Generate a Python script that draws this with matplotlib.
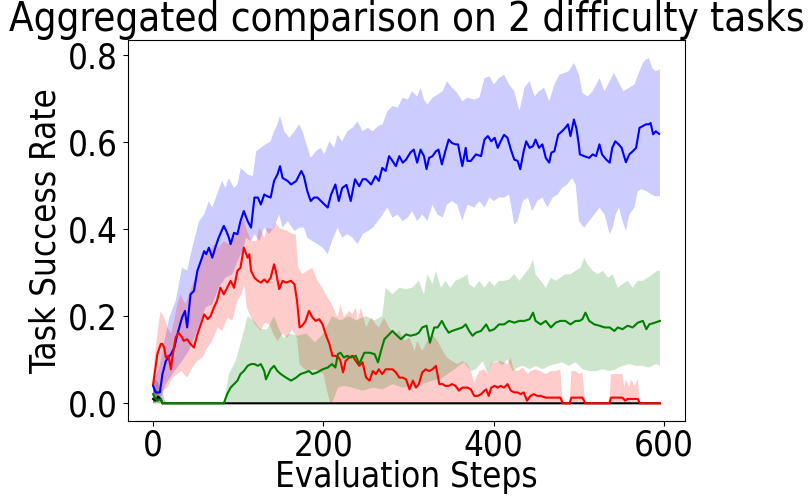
import numpy as np
import matplotlib
matplotlib.use("Agg")
import matplotlib.pyplot as plt
from matplotlib import font_manager

# %% data (step, value)
blue_x = [0, 3, 8, 11, 15, 21, 25, 28.5, 34, 37.5, 40, 44, 48, 52, 56, 60, 62.5, 65.5, 69.5, 73, 77, 83, 86, 89, 91, 95,
          99, 102.6, 106.5, 111, 115, 119, 123, 126.5, 130.5, 134, 138, 142, 146, 149, 152, 158, 162, 168, 174, 177, 181,
          185, 189, 193, 197, 205, 209, 214, 218, 222, 227, 232, 237, 242, 246, 250, 256, 261, 265, 269, 273, 277, 281,
          285, 289, 293, 297, 302, 306, 310, 314, 318, 321, 324, 328, 332, 335, 339, 343, 347, 351, 355, 358, 363, 367,
          369, 373, 379, 385, 389, 393, 397, 401, 404.5, 408, 412, 416, 420, 424, 428, 431, 435, 438, 442, 446, 449, 453,
          457, 461, 465, 467.5, 471, 475.5, 480, 484, 487, 490, 494, 497, 500, 501, 506, 512, 516, 520, 524, 527, 532,
          536, 539, 542.6, 546.5, 550, 555, 559, 563, 567, 571, 575, 578.5, 582, 584, 587, 590, 594]
blue_y = [0.04, 0.025, 0.025, 0.067, 0.097, 0.113, 0.128, 0.158, 0.197, 0.212, 0.174, 0.25, 0.258, 0.304, 0.326, 0.349,
          0.342, 0.357, 0.334, 0.357, 0.38, 0.407, 0.395, 0.38, 0.365, 0.391, 0.388, 0.418, 0.441, 0.418, 0.403, 0.472,
          0.472, 0.456, 0.479, 0.475, 0.472, 0.51, 0.525, 0.544, 0.517, 0.51, 0.502, 0.51, 0.533, 0.521, 0.487, 0.464,
          0.472, 0.472, 0.464, 0.449, 0.479, 0.502, 0.464, 0.494, 0.501, 0.464, 0.514, 0.498, 0.514, 0.514, 0.502, 0.521,
          0.51, 0.54, 0.533, 0.567, 0.556, 0.544, 0.567, 0.552, 0.559, 0.575, 0.582, 0.552, 0.582, 0.567, 0.537, 0.563,
          0.567, 0.578, 0.582, 0.548, 0.578, 0.605, 0.597, 0.594, 0.594, 0.544, 0.586, 0.556, 0.556, 0.571, 0.567, 0.605,
          0.613, 0.601, 0.609, 0.586, 0.601, 0.616, 0.609, 0.582, 0.559, 0.556, 0.537, 0.578, 0.601, 0.586, 0.59, 0.605,
          0.586, 0.594, 0.563, 0.552, 0.575, 0.578, 0.616, 0.624, 0.632, 0.64, 0.613, 0.651, 0.63, 0.59, 0.571, 0.567,
          0.563, 0.571, 0.567, 0.594, 0.571, 0.559, 0.552, 0.586, 0.601, 0.594, 0.586, 0.553, 0.571, 0.578, 0.586, 0.632,
          0.636, 0.64, 0.64, 0.643, 0.617, 0.624, 0.618]
blue_hi_x = [0, 7, 19, 26.5, 34, 40, 46, 54, 60, 65.5, 69.5, 75, 81, 85, 89, 95, 99, 103, 111, 117, 121, 126.5, 132,
             138, 142, 146, 149, 154, 160, 166, 171.5, 175.5, 179, 185, 191, 197, 201, 207, 212.5, 216.5, 222, 228, 234,
             240, 246, 252, 258, 264, 269.5, 275, 281, 287, 293, 299, 304, 310, 314, 318, 322, 328, 334, 340, 345, 351,
             357, 363, 369, 377, 383, 389, 395, 400, 406, 412, 418, 424, 430, 436, 442, 448, 453, 459, 465, 471, 477,
             483, 488, 494, 500, 504, 510, 516, 520, 524, 530, 536, 541, 547, 552, 559, 565, 571, 575, 579, 582, 586,
             590, 595]
blue_hi_y = [0.05, 0.08, 0.197, 0.235, 0.311, 0.304, 0.357, 0.418, 0.433, 0.464, 0.449, 0.479, 0.51, 0.494, 0.517,
             0.494, 0.502, 0.54, 0.525, 0.521, 0.578, 0.586, 0.594, 0.601, 0.624, 0.64, 0.659, 0.624, 0.609, 0.624, 0.64,
             0.624, 0.601, 0.563, 0.578, 0.586, 0.571, 0.601, 0.586, 0.616, 0.601, 0.624, 0.632, 0.647, 0.624, 0.632,
             0.624, 0.636, 0.64, 0.67, 0.682, 0.678, 0.701, 0.697, 0.716, 0.704, 0.724, 0.697, 0.685, 0.701, 0.708, 0.716,
             0.739, 0.724, 0.712, 0.693, 0.701, 0.697, 0.701, 0.746, 0.75, 0.731, 0.746, 0.754, 0.731, 0.716, 0.67, 0.724,
             0.739, 0.704, 0.716, 0.724, 0.693, 0.731, 0.754, 0.758, 0.762, 0.781, 0.754, 0.712, 0.704, 0.716, 0.731,
             0.746, 0.716, 0.739, 0.758, 0.735, 0.716, 0.724, 0.731, 0.762, 0.781, 0.789, 0.792, 0.769, 0.762, 0.766]
blue_lo_x = [0, 7, 11, 15, 22.6, 34, 42, 50, 56, 61.7, 69.5, 77, 85, 93, 101, 106.5, 109, 115, 119, 125, 130.5, 136,
             142, 148, 152, 158, 166, 171.5, 177, 181, 187, 193, 199, 205, 210, 216.5, 222, 228, 234, 240, 246, 252, 258,
             264, 269.5, 275, 281, 287, 293, 299, 304, 310, 316, 322, 328, 334, 340, 345, 351, 357, 363, 369, 377, 383,
             389, 395, 400, 406, 412, 418, 424, 428, 434, 440, 445, 451, 457, 463, 469, 475, 480, 486, 492, 496, 500,
             506, 512, 518, 524, 530, 536, 539.5, 543, 547, 551, 555, 559, 565, 569, 573, 579, 585, 590, 595]
blue_lo_y = [0.0, 0.01, 0.021, 0.044, 0.067, 0.097, 0.12, 0.158, 0.19, 0.22, 0.227, 0.265, 0.288, 0.296, 0.334, 0.357,
             0.38, 0.372, 0.388, 0.372, 0.403, 0.388, 0.403, 0.433, 0.403, 0.418, 0.395, 0.403, 0.403, 0.38, 0.372, 0.365,
             0.357, 0.342, 0.372, 0.403, 0.38, 0.388, 0.38, 0.365, 0.388, 0.395, 0.403, 0.418, 0.433, 0.449, 0.426, 0.433,
             0.418, 0.426, 0.441, 0.418, 0.433, 0.418, 0.456, 0.433, 0.426, 0.456, 0.464, 0.456, 0.418, 0.456, 0.449,
             0.464, 0.449, 0.472, 0.464, 0.472, 0.472, 0.479, 0.41, 0.418, 0.464, 0.472, 0.441, 0.464, 0.472, 0.449,
             0.472, 0.479, 0.494, 0.502, 0.517, 0.502, 0.418, 0.403, 0.418, 0.433, 0.449, 0.433, 0.388, 0.403, 0.433,
             0.449, 0.418, 0.395, 0.433, 0.449, 0.487, 0.491, 0.487, 0.479, 0.475, 0.475]

red_x = [0, 2.3, 5, 9, 11, 13, 15, 18, 21, 22.6, 26.5, 30, 34, 36, 40, 44, 48, 52, 56, 60, 64, 67.5, 71.5, 75, 79, 83,
         87, 91, 95, 99, 102.6, 106.5, 111, 113, 115, 119, 123, 126.5, 130.5, 134, 138, 142, 144, 148, 152, 156, 162,
         166, 169, 172, 175, 179, 183, 187, 191, 195, 199, 202.6, 207, 210.5, 214, 218, 220, 223, 226, 230, 234, 238,
         242, 246, 250, 254, 258, 261.5, 265, 269, 273, 277, 281, 285, 289, 293, 297, 301, 305, 308.5, 312, 316, 320,
         324, 328, 332, 336, 340, 343, 347, 351, 355, 359, 363, 369, 373, 377, 381, 385, 389, 391, 394, 397, 401, 404.5,
         408, 412, 416, 420, 424, 428, 431.5, 435, 439, 443, 447, 451, 455, 461, 467, 472.6, 478, 481, 489, 491, 496,
         500.5, 504, 507.5, 535.6, 537.5, 551, 554, 557, 563, 569, 571.5, 595]
red_y = [0.044, 0.074, 0.113, 0.136, 0.136, 0.128, 0.105, 0.109, 0.078, 0.105, 0.151, 0.162, 0.151, 0.143, 0.147, 0.136,
         0.128, 0.158, 0.181, 0.204, 0.193, 0.2, 0.22, 0.235, 0.265, 0.25, 0.265, 0.281, 0.265, 0.304, 0.311, 0.357,
         0.334, 0.342, 0.304, 0.288, 0.281, 0.277, 0.284, 0.277, 0.288, 0.319, 0.304, 0.262, 0.281, 0.277, 0.281, 0.273,
         0.235, 0.174, 0.178, 0.189, 0.212, 0.197, 0.189, 0.193, 0.181, 0.158, 0.136, 0.109, 0.109, 0.105, 0.097, 0.071,
         0.097, 0.105, 0.109, 0.097, 0.086, 0.094, 0.059, 0.052, 0.074, 0.067, 0.078, 0.067, 0.078, 0.078, 0.078, 0.071,
         0.059, 0.059, 0.055, 0.032, 0.052, 0.036, 0.044, 0.071, 0.078, 0.074, 0.078, 0.086, 0.044, 0.044, 0.04, 0.04,
         0.044, 0.04, 0.029, 0.036, 0.036, 0.032, 0.017, 0.017, 0.021, 0.029, 0.032, 0.017, 0.036, 0.04, 0.036, 0.04,
         0.036, 0.044, 0.029, 0.025, 0.025, 0.021, 0.025, 0.006, 0.017, 0.021, 0.017, 0.017, 0.013, 0.013, 0.013, 0.013,
         0.0, 0.0, 0.013, 0.013, 0.013, 0.013, 0.0, 0.0, 0.013, 0.013, 0.006, 0.01, 0.01, 0.01, 0.0, 0.0]
red_hi_x = [0, 3, 7, 9, 13, 17, 21, 24.6, 28.5, 32, 38, 42, 48, 54, 60, 65.5, 71.5, 77, 83, 89, 95, 101, 106.5, 109, 115,
            121, 125, 130.5, 134, 140, 144, 148, 152, 158, 164, 167.5, 170.5, 175, 181, 187, 193, 199, 205, 210, 216.5,
            220, 224, 230, 234, 238, 240, 244, 250, 256, 261.5, 265, 271, 277, 283, 289, 295, 301, 307, 310, 316, 322,
            328, 334, 340, 345, 351, 357, 363, 369, 373, 377, 383, 389, 393, 397, 402, 408, 416, 420, 423, 428, 434, 440,
            443, 449, 455, 461, 467, 472.6, 478, 480, 482, 489, 491, 496, 500.5, 504, 507.5, 535.6, 537.5, 551, 553, 555,
            559, 561, 565, 569, 571.5, 595]
red_hi_y = [0.067, 0.128, 0.189, 0.212, 0.197, 0.174, 0.158, 0.189, 0.227, 0.25, 0.227, 0.25, 0.281, 0.311, 0.342, 0.342,
            0.365, 0.357, 0.372, 0.365, 0.38, 0.403, 0.426, 0.403, 0.372, 0.372, 0.403, 0.38, 0.403, 0.399, 0.414, 0.403,
            0.399, 0.395, 0.388, 0.388, 0.311, 0.296, 0.304, 0.311, 0.281, 0.265, 0.242, 0.227, 0.197, 0.227, 0.197,
            0.212, 0.204, 0.22, 0.189, 0.22, 0.174, 0.197, 0.181, 0.174, 0.197, 0.174, 0.158, 0.166, 0.143, 0.151, 0.12,
            0.143, 0.12, 0.143, 0.158, 0.143, 0.12, 0.105, 0.097, 0.09, 0.097, 0.09, 0.074, 0.048, 0.074, 0.078, 0.067,
            0.094, 0.094, 0.097, 0.09, 0.105, 0.078, 0.074, 0.082, 0.067, 0.074, 0.078, 0.074, 0.067, 0.074, 0.074,
            0.078, 0.021, 0.0, 0.0, 0.074, 0.074, 0.067, 0.071, 0.0, 0.0, 0.067, 0.067, 0.036, 0.055, 0.036, 0.055, 0.04,
            0.055, 0.0, 0.0]
red_lo_x = [0, 7, 11, 17, 22.6, 28.5, 33, 40, 46, 52, 58, 64, 69.5, 75.8, 81, 87.5, 93, 99, 104, 107, 110, 114.8, 120,
            126.5, 131, 137, 141, 146, 152, 157.7, 163, 169, 172, 180, 190, 200, 204, 208, 595]
red_lo_y = [0.0, 0.021, 0.029, 0.036, 0.059, 0.067, 0.074, 0.059, 0.082, 0.097, 0.105, 0.128, 0.143, 0.174, 0.166, 0.197,
            0.189, 0.235, 0.25, 0.274, 0.22, 0.197, 0.18, 0.166, 0.185, 0.18, 0.16, 0.143, 0.16, 0.15, 0.17, 0.15, 0.09,
            0.074, 0.078, 0.067, 0.03, 0.0, 0.0]

green_x = [0, 3, 5, 9, 11, 83, 87, 91, 95, 99, 102.6, 106.5, 111, 115, 119, 123, 126.5, 130.5, 132.5, 138, 142, 146,
           150, 156, 162, 168, 173, 179, 183, 187, 193, 199, 205, 210, 214, 217, 220, 224, 228, 232, 238, 242, 248, 254,
           260, 264, 267.5, 271.5, 277, 281, 285, 291, 297, 302, 308.5, 312, 316, 321, 325, 330, 334, 339, 343, 347, 351,
           357, 363, 367, 371, 375, 379, 385, 391, 395, 400.5, 406, 412, 418, 424, 430, 436, 442, 446, 449, 455, 461,
           467, 472.6, 478, 484, 490, 496, 500.5, 504, 507.5, 512, 518, 524, 530, 536, 541.5, 545.5, 551, 557, 563, 569,
           575, 579, 582.5, 589, 595]
green_y = [0.021, 0.01, 0.006, 0.01, 0.0, 0.0, 0.021, 0.036, 0.044, 0.052, 0.067, 0.074, 0.086, 0.09, 0.09, 0.086, 0.09,
           0.074, 0.055, 0.078, 0.086, 0.074, 0.067, 0.059, 0.052, 0.059, 0.067, 0.071, 0.074, 0.067, 0.071, 0.078, 0.082,
           0.09, 0.082, 0.113, 0.116, 0.105, 0.109, 0.105, 0.109, 0.09, 0.116, 0.116, 0.113, 0.094, 0.12, 0.147, 0.158,
           0.166, 0.158, 0.147, 0.158, 0.155, 0.158, 0.162, 0.174, 0.178, 0.139, 0.174, 0.174, 0.189, 0.174, 0.162,
           0.166, 0.17, 0.174, 0.181, 0.166, 0.155, 0.162, 0.166, 0.181, 0.166, 0.17, 0.181, 0.181, 0.189, 0.185, 0.189,
           0.189, 0.193, 0.208, 0.189, 0.181, 0.189, 0.174, 0.185, 0.189, 0.189, 0.181, 0.189, 0.189, 0.193, 0.208,
           0.189, 0.181, 0.178, 0.174, 0.174, 0.166, 0.174, 0.17, 0.178, 0.174, 0.185, 0.189, 0.17, 0.181, 0.185, 0.189]
green_hi_x = [0, 5, 11, 83, 89, 97, 104.6, 111, 118, 126, 134, 142, 148, 153, 160, 169, 180, 190, 200, 210, 220, 230,
              238, 250, 260, 269, 273, 281, 289, 297, 304, 312, 318, 322, 328, 332, 338, 343, 349, 355, 363, 369, 371,
              377, 383, 389, 395, 400.5, 406, 412, 418, 424, 430, 436, 442, 446, 449, 455, 461, 467, 472.6, 478, 484,
              490, 496, 502, 506, 510, 516, 522, 528, 534, 539.5, 545.5, 551, 557, 563, 569, 575, 580.5, 586.5, 592, 595]
green_hi_y = [0.04, 0.03, 0.0, 0.0, 0.067, 0.097, 0.151, 0.2, 0.19, 0.17, 0.17, 0.2, 0.17, 0.15, 0.16, 0.155, 0.16,
              0.14, 0.16, 0.2, 0.19, 0.2, 0.19, 0.2, 0.19, 0.2, 0.265, 0.25, 0.265, 0.262, 0.265, 0.281, 0.25, 0.296,
              0.273, 0.304, 0.265, 0.281, 0.265, 0.281, 0.288, 0.296, 0.273, 0.265, 0.281, 0.265, 0.281, 0.269, 0.281,
              0.281, 0.284, 0.296, 0.281, 0.296, 0.311, 0.33, 0.296, 0.281, 0.265, 0.288, 0.281, 0.288, 0.296, 0.296,
              0.304, 0.311, 0.334, 0.319, 0.304, 0.296, 0.304, 0.288, 0.296, 0.265, 0.273, 0.281, 0.265, 0.281, 0.281,
              0.288, 0.296, 0.304, 0.304]
green_lo_x = [0, 210, 214, 217, 224, 234, 246, 258, 269.5, 281, 293, 304, 316, 328, 340, 351, 359, 365, 373, 379, 387,
              393, 398, 404.5, 410, 416, 422, 428, 434, 442, 449, 457, 465, 472.6, 480, 488, 496, 504, 512, 520, 528,
              536, 543, 551, 559, 567, 575, 582.5, 590, 595]
green_lo_y = [0.0, 0.0, 0.02, 0.036, 0.04, 0.036, 0.029, 0.036, 0.032, 0.044, 0.036, 0.04, 0.044, 0.052, 0.059, 0.074,
              0.086, 0.094, 0.074, 0.078, 0.097, 0.067, 0.094, 0.097, 0.086, 0.101, 0.074, 0.082, 0.086, 0.078, 0.086,
              0.078, 0.086, 0.09, 0.094, 0.086, 0.094, 0.078, 0.074, 0.074, 0.078, 0.074, 0.078, 0.086, 0.09, 0.086,
              0.086, 0.082, 0.09, 0.086]

black_x = [0, 3, 6, 9, 11, 595]
black_y = [0.01, 0.006, 0.015, 0.01, 0.0, 0.0]
black_hi_x = [0, 5, 10, 15, 595]
black_hi_y = [0.06, 0.05, 0.03, 0.0, 0.0]
black_lo_x = [0, 595]
black_lo_y = [0.0, 0.0]

# %% narrow face if it is there
names = {f.name for f in font_manager.fontManager.ttflist}
if "DejaVu Sans Condensed" in names:
    plt.rcParams["font.family"] = "DejaVu Sans Condensed"
else:
    plt.rcParams["font.family"] = "DejaVu Sans"
    plt.rcParams["font.stretch"] = "condensed"


# %%
def band(ax, hx, hy, lx, ly, color):
    px = np.concatenate([hx, lx[::-1]])
    py = np.concatenate([hy, ly[::-1]])
    ax.fill(px, py, color=color, alpha=0.2, linewidth=0)


fig = plt.figure(figsize=(8.11, 4.96), dpi=100)
ax = fig.add_axes([0.1575, 0.152, 0.6875, 0.767])

series = [
    (black_x, black_y, black_hi_x, black_hi_y, black_lo_x, black_lo_y, "k"),
    (blue_x, blue_y, blue_hi_x, blue_hi_y, blue_lo_x, blue_lo_y, "b"),
    (red_x, red_y, red_hi_x, red_hi_y, red_lo_x, red_lo_y, "r"),
    (green_x, green_y, green_hi_x, green_hi_y, green_lo_x, green_lo_y, "g"),
]
for mx, my, hx, hy, lx, ly, c in series:
    band(ax, np.array(hx), np.array(hy), np.array(lx), np.array(ly), c)
for mx, my, hx, hy, lx, ly, c in series:
    ax.plot(mx, my, color=c, linewidth=1.5)

ax.set_xlim(-29.75, 624.75)
ax.set_ylim(-0.0397, 0.833)
ax.set_xticks([0, 200, 400, 600])
ax.set_yticks([0.0, 0.2, 0.4, 0.6, 0.8])
ax.tick_params(labelsize=25)
ax.tick_params(axis="x", pad=2.5)
ax.set_xlabel("Evaluation Steps", fontsize=25, labelpad=-2)
ax.set_ylabel("Task Success Rate", fontsize=25)
ax.set_title("Aggregated comparison on 2 difficulty tasks", fontsize=28.8, pad=4)

fig.savefig("out.png", dpi=100)
